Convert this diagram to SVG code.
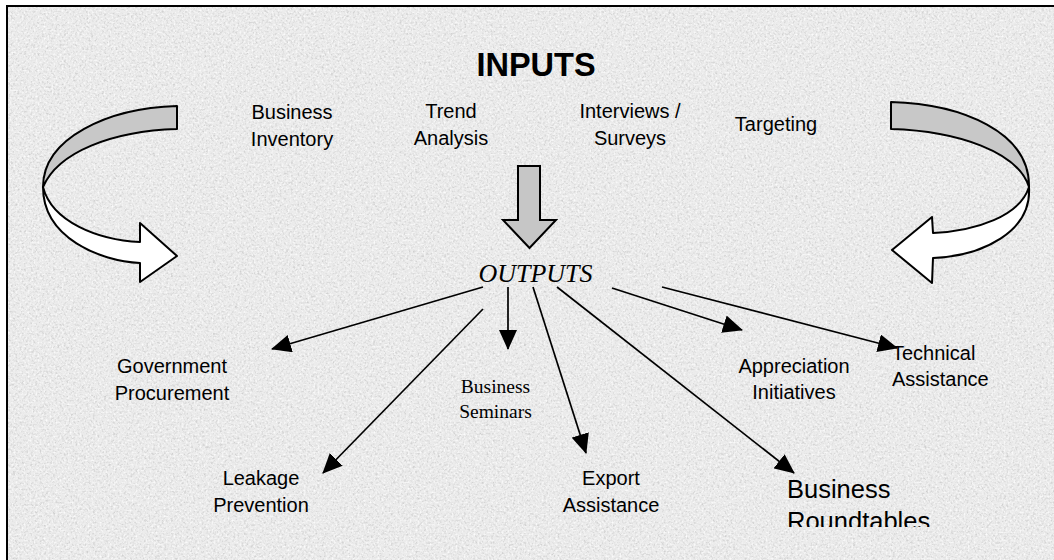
<svg xmlns="http://www.w3.org/2000/svg" width="1054" height="560" viewBox="0 0 1054 560">
  <defs>
    <filter id="speckle" x="0" y="0" width="100%" height="100%">
      <feTurbulence type="fractalNoise" baseFrequency="0.45" numOctaves="3" seed="7" result="t"/>
      <feColorMatrix in="t" type="matrix" values="0 0 0 0 0.62  0 0 0 0 0.62  0 0 0 0 0.62  2.6 0 0 0 -1.25"/>
    </filter>
    <filter id="speckle2" x="0" y="0" width="100%" height="100%">
      <feTurbulence type="fractalNoise" baseFrequency="0.5" numOctaves="2" seed="21" result="t"/>
      <feColorMatrix in="t" type="matrix" values="0 0 0 0 1  0 0 0 0 1  0 0 0 0 1  2.4 0 0 0 -1.15"/>
    </filter>
    <marker id="head" viewBox="0 0 20 18" refX="19" refY="9" markerWidth="20" markerHeight="18" markerUnits="userSpaceOnUse" orient="auto">
      <path d="M0,0 L20,9 L0,18 Z" fill="#000"/>
    </marker>
    <clipPath id="rtClip">
      <rect x="770" y="460" width="200" height="67"/>
    </clipPath>
  </defs>
  <style>
    .sans { font-family: "Liberation Sans", Arial, sans-serif; font-size: 20px; fill: #000; }
    .serif { font-family: "Liberation Serif", "Times New Roman", serif; fill: #000; }
    .ribbon { stroke: #000; stroke-width: 2; stroke-linejoin: round; }
    .back { fill: #c8c8c8; }
    .front { fill: #ffffff; }
    .conn { stroke: #000; stroke-width: 1.7; fill: none; marker-end: url(#head); }
  </style>

  <!-- background -->
  <rect x="0" y="0" width="1054" height="560" fill="#ffffff"/>
  <rect x="7" y="6" width="1047" height="554" fill="#ebebeb"/>
  <rect x="7" y="6" width="1047" height="554" filter="url(#speckle)"/>
  <rect x="7" y="6" width="1047" height="554" filter="url(#speckle2)"/>
  <path d="M7,560 L7,6 L1054,6" fill="none" stroke="#000" stroke-width="2"/>

  <g id="loop-left">
    <path class="ribbon back" d="M177,106 L177,129 C112,131 58,152 43,187 C43,138 108,108 177,106 Z"/>
    <path class="ribbon front" d="M43,187 C43,238 100,261 140,263 L140,282 L177,256 L140,223 L140,242 C98,240 52,222 43,187 Z"/>
  </g>

  <g id="loop-right">
    <path class="ribbon back" d="M891,102 L891,129 C958,131 1018,152 1029,187 C1030,132 962,104 891,102 Z"/>
    <path class="ribbon front" d="M1029,187 C1032,232 982,256 933,258 L932,283 L892,250 L932,217 L933,233 C976,231 1020,216 1029,187 Z"/>
  </g>

  <g id="inputs-title">
    <text x="536" y="76" text-anchor="middle" font-family="Liberation Sans, Arial, sans-serif" font-size="32.5" font-weight="bold">INPUTS</text>
  </g>

  <g id="business-inventory">
    <text class="sans" x="292" y="119" text-anchor="middle">Business</text>
    <text class="sans" x="292" y="146" text-anchor="middle">Inventory</text>
  </g>
  <g id="trend-analysis">
    <text class="sans" x="451" y="118" text-anchor="middle">Trend</text>
    <text class="sans" x="451" y="145" text-anchor="middle">Analysis</text>
  </g>
  <g id="interviews-surveys">
    <text class="sans" x="630" y="118" text-anchor="middle">Interviews /</text>
    <text class="sans" x="630" y="145" text-anchor="middle">Surveys</text>
  </g>
  <g id="targeting">
    <text class="sans" x="776" y="131" text-anchor="middle">Targeting</text>
  </g>

  <g id="down-arrow">
    <path d="M518,166 L540,166 L540,220 L556,220 L529.5,248 L503,220 L518,220 Z" fill="#c6c6c6" stroke="#000" stroke-width="2" stroke-linejoin="miter"/>
  </g>

  <g id="outputs">
    <text class="serif" x="535.5" y="282" text-anchor="middle" font-size="26" font-style="italic">OUTPUTS</text>
  </g>

  <g id="connectors">
    <line class="conn" x1="483" y1="287" x2="272" y2="349"/>
    <line class="conn" x1="483" y1="309" x2="323" y2="473"/>
    <line class="conn" x1="508" y1="287" x2="508" y2="349"/>
    <line class="conn" x1="533" y1="287" x2="586" y2="453"/>
    <line class="conn" x1="557" y1="287" x2="794" y2="473"/>
    <line class="conn" x1="612" y1="288" x2="742" y2="330"/>
    <line class="conn" x1="662" y1="287" x2="897" y2="348"/>
  </g>

  <g id="government-procurement">
    <text class="sans" x="172" y="373" text-anchor="middle">Government</text>
    <text class="sans" x="172" y="400" text-anchor="middle">Procurement</text>
  </g>
  <g id="leakage-prevention">
    <text class="sans" x="261" y="485" text-anchor="middle">Leakage</text>
    <text class="sans" x="261" y="512" text-anchor="middle">Prevention</text>
  </g>
  <g id="business-seminars">
    <text class="serif" x="495.5" y="393" text-anchor="middle" font-size="19.5">Business</text>
    <text class="serif" x="495.5" y="418" text-anchor="middle" font-size="19.5">Seminars</text>
  </g>
  <g id="export-assistance">
    <text class="sans" x="611" y="485" text-anchor="middle">Export</text>
    <text class="sans" x="611" y="512" text-anchor="middle">Assistance</text>
  </g>
  <g id="appreciation-initiatives">
    <text class="sans" x="794" y="373" text-anchor="middle">Appreciation</text>
    <text class="sans" x="794" y="399" text-anchor="middle">Initiatives</text>
  </g>
  <g id="technical-assistance">
    <text class="sans" x="892" y="360">Technical</text>
    <text class="sans" x="892" y="386">Assistance</text>
  </g>
  <g id="business-roundtables" clip-path="url(#rtClip)">
    <text x="787" y="498" font-family="Liberation Sans, Arial, sans-serif" font-size="25.5">Business</text>
    <text x="787" y="530" font-family="Liberation Sans, Arial, sans-serif" font-size="25.5">Roundtables</text>
  </g>
</svg>
